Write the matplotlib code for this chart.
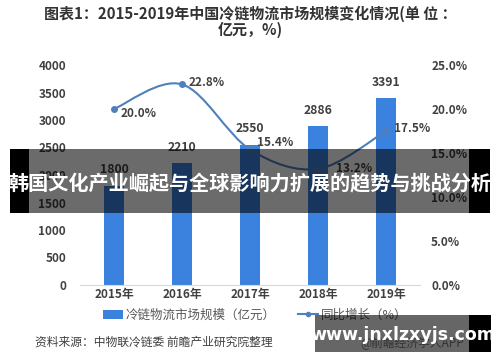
import matplotlib
matplotlib.use('Agg')
import matplotlib.pyplot as plt
from matplotlib.path import Path
from matplotlib.patches import PathPatch, Rectangle, Patch
from matplotlib.lines import Line2D
import numpy as np

plt.rcParams['font.family'] = ['Noto Sans CJK SC', 'DejaVu Sans']

years = ['2015年', '2016年', '2017年', '2018年', '2019年']
market_size = [1800, 2210, 2550, 2886, 3391]
growth = [20.0, 22.8, 15.4, 13.2, 17.5]
left_ticks = [0, 500, 1000, 1500, 2000, 2500, 3000, 3500, 4000]
right_ticks = [0, 5, 10, 15, 20, 25]

title = '图表1：2015-2019年中国冷链物流市场规模变化情况(单 位 ：\n亿元，%)'
overlay = '韩国文化产业崛起与全球影响力扩展的趋势与挑战分析'
source = '资料来源：中物联冷链委 前瞻产业研究院整理'
site = 'www.jnxlzxyjs.com'

W, H = 500, 362
BAR = '#3b82de'
LINE = '#4f80bd'
TXT = '#404040'


def fx(px):
    return px / W


def fy(py):
    return 1 - py / H


fig = plt.figure(figsize=(5, 3.62), dpi=100)
fig.patch.set_facecolor('white')
ax = fig.add_axes([fx(80), fy(285), fx(340), 220 / H])
ax2 = ax.twinx()

x = np.arange(len(years))
ax.bar(x, market_size, width=0.29, color=BAR, zorder=2)
for xi, v in zip(x, market_size):
    ax.annotate(str(v), (xi, v), xytext=(0, 7), textcoords='offset points',
                ha='center', va='bottom', fontsize=8.8, fontweight='bold', color=TXT)

ax.set_xlim(-0.5, 4.5)
ax.set_ylim(0, 4000)
ax.set_yticks(left_ticks)
ax.set_xticks(x)
ax.set_xticklabels(years)
for s in ['top', 'left', 'right']:
    ax.spines[s].set_visible(False)
    ax2.spines[s].set_visible(False)
ax2.spines['bottom'].set_visible(False)
ax.spines['bottom'].set_color('#d9d9d9')
ax.tick_params(axis='y', length=0, pad=10, labelsize=8.5, labelcolor=TXT)
ax.tick_params(axis='x', length=0, pad=2, labelsize=8.5, labelcolor=TXT)
for lbl in ax.get_xticklabels() + ax.get_yticklabels():
    lbl.set_fontweight('bold')

# smoothed growth line (cubic bezier through the points)
ax2.set_ylim(0, 25)
ax2.set_yticks(right_ticks)
ax2.set_yticklabels([f'{t:.1f}%' for t in right_ticks])
ax2.tick_params(axis='y', length=0, pad=8, labelsize=8.5, labelcolor=TXT)
for lbl in ax2.get_yticklabels():
    lbl.set_fontweight('bold')

pts = np.column_stack([x, growth]).astype(float)
verts = [tuple(pts[0])]
codes = [Path.MOVETO]
for i in range(len(pts) - 1):
    p0 = pts[i - 1] if i > 0 else pts[i]
    p1, p2 = pts[i], pts[i + 1]
    p3 = pts[i + 2] if i + 2 < len(pts) else pts[i + 1]
    c1 = p1 + (p2 - p0) / 6
    c2 = p2 - (p3 - p1) / 6
    verts += [tuple(c1), tuple(c2), tuple(p2)]
    codes += [Path.CURVE4] * 3
ax2.add_patch(PathPatch(Path(verts, codes), fill=False, edgecolor=LINE, lw=1.5, zorder=3))
ax2.plot(x, growth, 'o', color=LINE, ms=4, zorder=4)
offsets = [(5, -3), (5, 1), (5, 5), (13, 0), (6, 2)]
for xi, g, off in zip(x, growth, offsets):
    ax2.annotate(f'{g:.1f}%', (xi, g), xytext=off, textcoords='offset points',
                 ha='left', va='center', fontsize=8.5, fontweight='bold', color=TXT)

# title
fig.text(0.5, fy(22), title, ha='center', va='center', fontsize=10.8,
         fontweight='bold', color='#333333', linespacing=0.95)

# legend
handles = [Patch(facecolor=BAR, edgecolor='none'),
           Line2D([0], [0], color=LINE, lw=1.5, marker='o', ms=3)]
fig.legend(handles, ['冷链物流市场规模（亿元）', '同比增长（%）'], loc='center',
           bbox_to_anchor=(fx(255), fy(315)), ncol=2, frameon=False,
           fontsize=9, handlelength=1.6, handletextpad=0.2, columnspacing=1.8,
           labelcolor='#595959')

fig.text(fx(35), fy(342), source, ha='left', va='center', fontsize=8.5, color=TXT)
fig.text(fx(360), fy(343), '@前瞻经济学人APP', ha='left', va='center', fontsize=8.5, color='#808080')

# overlay banner
fig.patches.append(Rectangle((fx(10), fy(213)), fx(19), 64 / H, transform=fig.transFigure,
                             facecolor='black', zorder=10))
fig.patches.append(Rectangle((fx(29), fy(213)), fx(440), 64 / H, transform=fig.transFigure,
                             facecolor='black', alpha=0.58, zorder=10))
fig.patches.append(Rectangle((fx(469), fy(213)), fx(21), 64 / H, transform=fig.transFigure,
                             facecolor='black', zorder=10))
fig.text(0.5, fy(184), overlay, ha='center', va='center', fontsize=14.5,
         fontweight='bold', color='white', zorder=11)

# site watermark box
fig.patches.append(Rectangle((fx(315), fy(352)), fx(154), 37 / H, transform=fig.transFigure,
                             facecolor='black', alpha=0.6, zorder=10))
fig.patches.append(Rectangle((fx(469), fy(352)), fx(22), 37 / H, transform=fig.transFigure,
                             facecolor='black', zorder=10))
fig.text(fx(403), fy(335), site, ha='center', va='center', fontsize=12.5,
         fontweight='bold', color='white', family='DejaVu Sans', zorder=11)

fig.savefig('out.png', dpi=100)
